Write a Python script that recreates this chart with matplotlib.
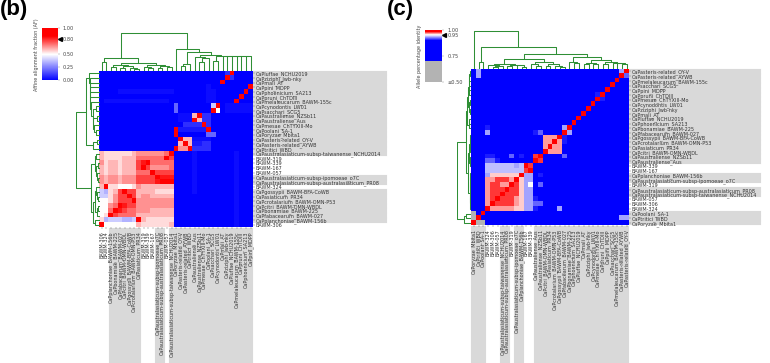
import numpy as np
import matplotlib
matplotlib.use("Agg")
import matplotlib.pyplot as plt
from matplotlib.colors import LinearSegmentedColormap, Normalize
from matplotlib.cm import ScalarMappable

W, H = 770, 363
GREEN = "#2f8f35"
BAND = "#d9d9d9"
TEXT = "#333333"

# row / column order of panel b
rows_b = [
    "CaPluffae_NCHU2019", "CaPziziphi_Jwb-nky", "CaPmali_AT", "CaPpini_MDPP",
    "CaPphoenicium_SA213", "CaPpruni_ChTDIII", "CaPmelaleucarum_BAWM-155c",
    "CaPcynodontis_LW01", "CaPsacchari_SCG5", "CaPaustraliense_NZSb11",
    "CaPaustraliense_Aus", "CaPmesae_ChTYXIII-Mo", "CaPoolani_SA-1",
    "CaPoryzae_Mbita1", "CaPasteris-related_OY-V", "CaPasteris-related_AYWB",
    "CaPtritici_WBD", "CaPaustralasiaticum-subsp-taiwanense_NCHU2014",
    "BAWM-319", "BAWM-339", "BAWM-167", "BAWM-057",
    "CaPaustralasiaticum-subsp-ipomoeae_o7C",
    "CaPaustralasiaticum-subsp-australasiaticum_PR08", "BAWM-324",
    "CaPgossypii_BAWM-BFA-CoWB", "CaPasiaticum_PR34",
    "CaPcrotalarium_BAWM-OMN-P53", "CaPcitri_BAWM-OMN-WBDL",
    "CaPbonamiae_BAWM-225", "CaPfabacearum_BAWM-027",
    "CaPplanchoniae_BAWM-156b", "BAWM-306",
]
cols_b = [
    "BAWM-306", "BAWM-324", "CaPplanchoniae_BAWM-156b", "CaPbonamiae_BAWM-225",
    "CaPfabacearum_BAWM-027", "CaPcitri_BAWM-OMN-WBDL",
    "CaPgossypii_BAWM-BFA-CoWB", "CaPcrotalarium_BAWM-OMN-P53",
    "CaPasiaticum_PR34", "BAWM-319", "BAWM-339", "BAWM-167",
    "CaPaustralasiaticum-subsp-ipomoeae_o7C",
    "CaPaustralasiaticum-subsp-australasiaticum_PR08", "BAWM-057",
    "CaPaustralasiaticum-subsp-taiwanense_NCHU2014", "CaPoryzae_Mbita1",
    "CaPasteris-related_OY-V", "CaPasteris-related_AYWB", "CaPtritici_WBD",
    "CaPaustraliense_Aus", "CaPaustraliense_NZSb11", "CaPmesae_ChTYXIII-Mo",
    "CaPoolani_SA-1", "CaPsacchari_SCG5", "CaPcynodontis_LW01", "CaPmali_AT",
    "CaPziziphi_Jwb-nky", "CaPluffae_NCHU2019", "CaPmelaleucarum_BAWM-155c",
    "CaPpruni_ChTDIII", "CaPphoenicium_SA213", "CaPpini_MDPP",
]

# row order of panel c, its columns are the same names reversed
rows_c = [
    "CaPasteris-related_OY-V", "CaPasteris-related_AYWB",
    "CaPmelaleucarum_BAWM-155c", "CaPsacchari_SCG5", "CaPpini_MDPP",
    "CaPpruni_ChTDIII", "CaPmesae_ChTYXIII-Mo", "CaPcynodontis_LW01",
    "CaPziziphi_Jwb-nky", "CaPmali_AT", "CaPluffae_NCHU2019",
    "CaPphoenicium_SA213", "CaPbonamiae_BAWM-225", "CaPfabacearum_BAWM-027",
    "CaPgossypii_BAWM-BFA-CoWB", "CaPcrotalarium_BAWM-OMN-P53",
    "CaPasiaticum_PR34", "CaPcitri_BAWM-OMN-WBDL", "CaPaustraliense_NZSb11",
    "CaPaustraliense_Aus", "BAWM-339", "BAWM-167", "CaPplanchoniae_BAWM-156b",
    "CaPaustralasiaticum-subsp-ipomoeae_o7C", "BAWM-319",
    "CaPaustralasiaticum-subsp-australasiaticum_PR08",
    "CaPaustralasiaticum-subsp-taiwanense_NCHU2014", "BAWM-057", "BAWM-306",
    "BAWM-324", "CaPoolani_SA-1", "CaPtritici_WBD", "CaPoryzae_Mbita1",
]
cols_c = rows_c[::-1]

# AF, hex digits index into af_levels
af_levels = [0, 0.025, 0.05, 0.09, 0.20, 0.25, 0.35, 0.40,
             0.50, 0.55, 0.60, 0.65, 0.70, 0.76, 0.82, 1.00]
af_rows = [
    "0000000000000000 000000000003f0000",
    "0000000000000000 00000000000f30000",
    "0000000000000000 0000000000f000000",
    "0000000000000000 0000000100000000f",
    "0000111111111111 000000011000000f0",
    "0000000000000000 00000001100000f00",
    "0111111111111110 0000000110000f000",
    "0000000000000000 400000007f0111111",
    "0000000000000000 40000000f80111111",
    "0000000000000000 0111af33000000000",
    "0000000000000000 0111fa33000000000",
    "0000000000000000 003333f3000000000",
    "0000000000000000 f222222f000000000",
    "0000000000000000 f0000004400000000",
    "0000000000000000 0faa1111000000000",
    "0000000000000000 0afa2233000000000",
    "0000000000000000 fbbf3333000000000",
    "a999999abbbbbbcf 00001000000001000",
    "a9999aaaccccccfd 00001000000001000",
    "b9aa9aaadefccccc 00001000000001000",
    "a9aa9aaadfdbbbbc 00001000000001000",
    "a9aa9aaacccfdddd 00001000000001000",
    "babbabbbddddfeee 00001000000001000",
    "babbabbbddddefff 00001000000001000",
    "af998889baaaaaaa 00001000000001000",
    "769adfddaaaa9999 00001000000001000",
    "779bddfdabbaaaaa 00000000000001000",
    "889bdddfbbbbbbbb 00000000000001000",
    "88bcfeddbbbbbbbb 00000000000001000",
    "88cfedccbbbaaaaa 00000000000001000",
    "89fdccccaaaaaaaa 00000000000001000",
    "96777667fa999999 00000000000001000",
    "f8888888a999999a 00000000000001000",
]

# identity, digits index into id_levels
id_levels = [0.60, 0.80, 0.905, 0.92, 0.94, 0.935, 0.955, 0.96, 0.965, 0.978, 1.00]
id_rows = [
    "15111111111 11111111111 1111111115a",
    "15111111111 11111111111 111111111a3",
    "11111111111 11111111111 11111111a11",
    "11111111111 11111111111 1111111a111",
    "11111111111 11111111111 111111a1111",
    "11111111111 11111111111 11112a11111",
    "11111111111 11111111111 1111a211111",
    "11111111111 11111111111 111a1111111",
    "11111111111 11111111111 11a11111111",
    "11111111111 11111111111 1a111111111",
    "11111111111 11111111111 a1111111111",
    "11111111111 1111111111a 11111111111",
    "11121111111 111111115a1 11111111111",
    "11151111111 11231111a51 11111111111",
    "11111111111 1111888a211 11111111111",
    "11111111111 111188a8211 11111111111",
    "11111111111 11118a88111 11111111111",
    "11111111111 1111a888111 11111111111",
    "11122111312 119a1111311 11111111111",
    "11133211111 11a91111111 11111111111",
    "11144444454 a9111111111 11111111111",
    "11144444444 9a111111111 11111111111",
    "1115777777a 55121111111 11111111111",
    "111889998a7 55111111111 11111111111",
    "11189988a97 56131111111 11111111111",
    "1118999a997 55111111111 11111111111",
    "111899a9997 55111111111 11111111111",
    "11189a99987 55211111111 11111111111",
    "1118a999987 55331111111 11111111111",
    "111a8888877 55211115111 11111111111",
    "01a11111111 11111111111 11111111111",
    "0a111111111 11111111111 11111111155",
    "a0011111111 11111111111 11111111111",
]

# dendrograms as (height in px, left, right), ints are leaves
tree_top_b = (38,
    (12.3, (9, 0, 1),
        (7.3, (5.7, (3.5, 2, 3), (4.5, (3, 4, 5), (2.5, 6, (1.5, 7, 8)))),
            (5.7, (4, 9, (2.5, 10, 11)), (4.5, (3, 12, 13), (4, 14, 15))))),
    (21.7, 16,
        (18.3, (7, (5, 17, 18), 19),
            (15.5, (14, 20, (13, (8.5, 21, 22), 23)),
                (14.6, (10, 24, 25),
                    (14.6, 26, (14.6, 27, (14.6, 28, (14.6, 29, (14.6, 30, (14.6, 31, 32))))))))))
)
tree_left_b = (23.5,
    (13.5,
        (10.2, 0, (10, 1, (9.8, 2, (9.6, 3, (9.4, 4, (9.2, 5, (9, 6,
            (7, (4, 7, 8), (6.5, (2.5, 9, 10), (5.5, 11, (3.5, 12, 13)))))))))) ),
        (7, (2.5, 14, 15), 16)),
    (9,
        (5, (3.5, 17, 18), (3.3, (2, 19, 20), (3, 21, (2, 22, 23)))),
        (7, (5, (3.5, 24, (3, 25, (2, 26, 27))), (3, (2, 28, 29), 30)), (4.5, 31, 32))),
)
tree_mid_c = (15,
    (9.7,
        (5, (4, 3, (3.5, (2.5, 4, 5), 6)), (4.5, (3.5, 7, 8), (4, 9, (2.5, 10, 11)))),
        (7.3, (5, 12, (3, 13, 14)), (5, (3.5, 15, 16), (3, 17, (2, 18, 19))))),
    (11.7,
        (7, 20, (6, 21, 22)),
        (9, (6.5, (5, 23, 24), (5, 25, 26)),
            (7, (5.5, 27, 28), (6.5, 29, (6, 30, (5, 31, 32)))))),
)
tree_top_c = (38.3, 0, (21.7, (7.3, 1, 2), tree_mid_c))


def to_grid(rows, levels):
    return np.array([[levels[int(ch, 16)] for ch in r.replace(" ", "")] for r in rows])


def axes_px(x0, y0, x1, y1):
    return fig.add_axes([x0 / W, 1 - y1 / H, (x1 - x0) / W, (y1 - y0) / H])


def mirror(tree, n, scale):
    if isinstance(tree, int):
        return n - 1 - tree
    return (tree[0] * scale, mirror(tree[2], n, scale), mirror(tree[1], n, scale))


def draw_tree(node, ax, horizontal):
    # returns leaf position and height of the node
    if isinstance(node, int):
        return node + 0.5, 0
    p1, h1 = draw_tree(node[1], ax, horizontal)
    p2, h2 = draw_tree(node[2], ax, horizontal)
    h = node[0]
    xs, ys = [p1, p1, p2, p2], [h1, h, h, h2]
    if horizontal:
        ax.plot(xs, ys, color=GREEN, lw=0.75, solid_capstyle="butt")
    else:
        ax.plot(ys, xs, color=GREEN, lw=0.75, solid_capstyle="butt")
    return (p1 + p2) / 2, h


def panel(box, grid, rows, cols, cmap, norm, band_right, top_tree, left_tree, left_w):
    x0, y0, x1, y1 = box
    dx, dy = (x1 - x0) / len(cols), (y1 - y0) / len(rows)
    # grey bands behind the labels of the CaP names
    for i, name in enumerate(rows):
        if name.startswith("CaP"):
            bg.fill_between([x1, band_right], y0 + i * dy, y0 + (i + 1) * dy,
                            color=BAND, lw=0.1)
    for j, name in enumerate(cols):
        if name.startswith("CaP"):
            bg.fill_between([x0 + j * dx, x0 + (j + 1) * dx], y1 + 1, 362.7,
                            color=BAND, lw=0.1)
    ax = axes_px(x0, y0, x1, y1)
    ax.imshow(grid, cmap=cmap, norm=norm, aspect="auto", interpolation="nearest")
    ax.yaxis.tick_right()
    ax.set_yticks(range(len(rows)), rows, color=TEXT)
    ax.set_xticks(range(len(cols)), cols, rotation=90, color=TEXT)
    ax.tick_params(labelsize=3.55, length=1.2, width=0.3, pad=0.7, color="#666666")
    ax.tick_params(axis="x", pad=1.5)
    for s in ax.spines.values():
        s.set_visible(False)
    top = axes_px(x0, y0 - 40, x1, y0)
    top.set_xlim(0, len(cols))
    top.set_ylim(0, 40)
    top.axis("off")
    draw_tree(top_tree, top, True)
    left = axes_px(x0 - left_w, y0, x0, y1)
    left.set_xlim(left_w, 0)
    left.set_ylim(len(rows), 0)
    left.axis("off")
    draw_tree(left_tree, left, False)


def colorbar(box, cmap, norm, ticks, labels, mark, title, title_x):
    cax = axes_px(*box)
    cb = fig.colorbar(ScalarMappable(norm=norm, cmap=cmap), cax=cax)
    cb.outline.set_visible(False)
    cb.set_ticks(ticks, labels=labels)
    cb.ax.tick_params(labelsize=3.6, length=1.2, width=0.3, pad=2.5,
                      labelcolor="#444444", color="#888888")
    cax.plot([1.12], [mark], marker="<", ms=2.8, color="black", clip_on=False,
             transform=cax.get_yaxis_transform())
    fig.text(title_x / W, 1 - (box[1] + box[3]) / 2 / H, title, rotation=90,
             fontsize=3.5, color="#444444", ha="center", va="center")


fig = plt.figure(figsize=(W / 100, H / 100), dpi=100)
bg = fig.add_axes([0, 0, 1, 1], zorder=-1)
bg.set_xlim(0, W)
bg.set_ylim(H, 0)
bg.axis("off")

cmap_af = LinearSegmentedColormap.from_list(
    "af", [(0, "#0000ff"), (0.5, "#ffffff"), (0.85, "#ff0000"), (1, "#ff0000")])
norm_af = Normalize(0, 1)
cmap_id = LinearSegmentedColormap.from_list(
    "ident", [(0, "#b3b3b3"), (0.408, "#b3b3b3"), (0.409, "#0000ff"), (0.80, "#0000ff"),
              (0.91, "#ffffff"), (0.97, "#ff0000"), (1, "#ff0000")])
norm_id = Normalize(0.5, 1)

af_grid = to_grid(af_rows, af_levels)
id_grid = to_grid(id_rows, id_levels)

panel((99.5, 70.7, 252.9, 227.4), af_grid, rows_b, cols_b, cmap_af, norm_af, 386.7,
      tree_top_b, tree_left_b, 23.5)
tree_left_c = (14, mirror(tree_mid_c, 33, 0.36), (7, (5, 30, 31), 32))
panel((471.4, 69, 629.3, 225.4), id_grid, rows_c, cols_c, cmap_id, norm_id, 760.7,
      tree_top_c, tree_left_c, 14)

colorbar((41.7, 28.3, 57.7, 80.3), cmap_af, norm_af, [0, 0.25, 0.5, 0.8, 1],
         ["0.00", "0.25", "0.50", "0.80", "1.00"], 0.8,
         "Affine alignment fraction (AF)", 36.5)
colorbar((425, 30, 442.3, 82.3), cmap_id, norm_id, [0.5, 0.75, 0.95, 1],
         ["≤0.50", "0.75", "0.95", "1.00"], 0.95,
         "Allele percentage identity", 419)

fig.text(0 / W, 1 - 10 / H, "(b)", fontsize=16, fontweight="bold",
         family="Liberation Sans", ha="left", va="center")
fig.text(387 / W, 1 - 10 / H, "(c)", fontsize=16, fontweight="bold",
         family="Liberation Sans", ha="left", va="center")

fig.savefig("out.png", dpi=100)
